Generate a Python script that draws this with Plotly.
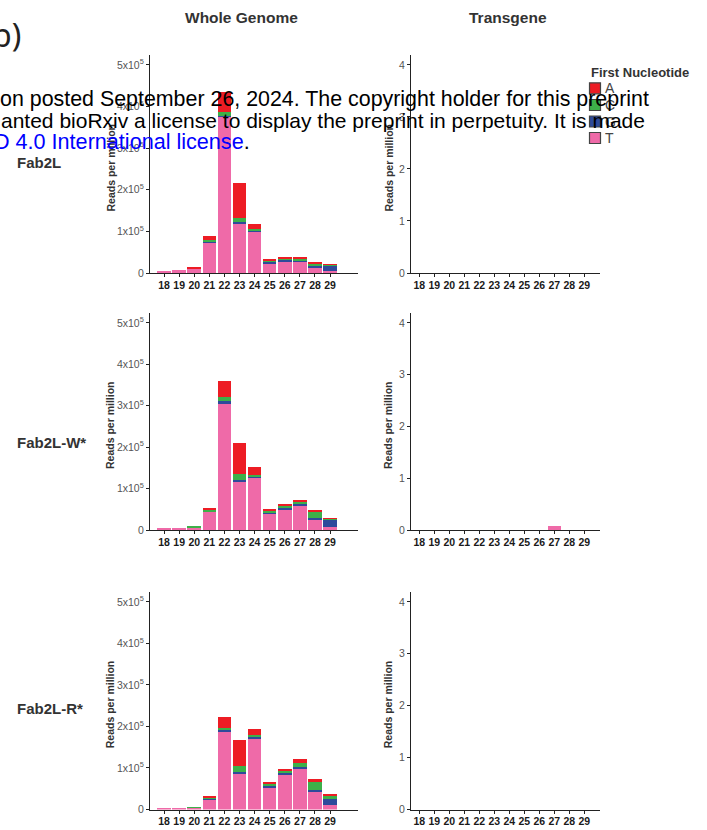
import plotly.graph_objects as go

# ---------------- data ----------------
lengths = [18, 19, 20, 21, 22, 23, 24, 25, 26, 27, 28, 29]
nucleotides = ["T", "G", "C", "A"]          # stacking order bottom -> top
legend_order = ["A", "C", "G", "T"]
samples = ["Fab2L", "Fab2L-W*", "Fab2L-R*"]
panels = ["Whole Genome", "Transgene"]

# Whole genome, reads per million, split by first nucleotide
fab2l_wg_T = [3000, 6500, 11000, 73600, 376000, 118000, 100000, 22400, 28800, 28000, 12800, 4800]
fab2l_wg_G = [0, 0, 300, 2400, 2000, 4000, 3000, 5500, 3000, 3000, 3000, 12800]
fab2l_wg_C = [0, 0, 500, 4000, 8000, 10500, 3000, 2000, 2500, 3000, 6500, 1700]
fab2l_wg_A = [0, 0, 1000, 8000, 48000, 84000, 12000, 2000, 2500, 2500, 2500, 1500]

fab2lw_wg_T = [4000, 5500, 7000, 44000, 306000, 116000, 127000, 39000, 50000, 58600, 26500, 8000]
fab2lw_wg_G = [0, 0, 0, 1500, 4800, 4000, 3000, 4000, 4000, 3000, 3000, 17000]
fab2lw_wg_C = [0, 0, 800, 3000, 9600, 16000, 2500, 4000, 4000, 6500, 14500, 2000]
fab2lw_wg_A = [0, 0, 0, 3500, 40000, 74000, 18500, 3500, 3000, 5500, 2500, 1000]

fab2lr_wg_T = [2500, 3000, 4500, 25000, 188000, 86000, 172000, 52400, 83000, 97600, 41000, 12000]
fab2lr_wg_G = [0, 0, 0, 1000, 3000, 4000, 3000, 5000, 5000, 5000, 5000, 14500]
fab2lr_wg_C = [0, 0, 1000, 3000, 5500, 14600, 3500, 5000, 5000, 9500, 20000, 6500]
fab2lr_wg_A = [0, 0, 0, 3000, 26000, 62600, 15000, 4000, 4000, 9500, 6500, 3000]

# Transgene, reads per million
fab2l_tg_T = [0] * 12
fab2l_tg_G = [0] * 12
fab2l_tg_C = [0] * 12
fab2l_tg_A = [0] * 12

fab2lw_tg_T = [0, 0, 0, 0, 0, 0, 0, 0, 0, 0.08, 0, 0]
fab2lw_tg_G = [0] * 12
fab2lw_tg_C = [0] * 12
fab2lw_tg_A = [0] * 12

fab2lr_tg_T = [0] * 12
fab2lr_tg_G = [0] * 12
fab2lr_tg_C = [0] * 12
fab2lr_tg_A = [0] * 12

wg_tickvals = [0, 100000, 200000, 300000, 400000, 500000]
wg_ticktext = ["0", "1x10<sup>5</sup>", "2x10<sup>5</sup>", "3x10<sup>5</sup>",
               "4x10<sup>5</sup>", "5x10<sup>5</sup>"]
tg_tickvals = [0, 1, 2, 3, 4]
tg_ticktext = ["0", "1", "2", "3", "4"]

data = {
    ("Fab2L", "Whole Genome"): {"T": fab2l_wg_T, "G": fab2l_wg_G, "C": fab2l_wg_C, "A": fab2l_wg_A},
    ("Fab2L-W*", "Whole Genome"): {"T": fab2lw_wg_T, "G": fab2lw_wg_G, "C": fab2lw_wg_C, "A": fab2lw_wg_A},
    ("Fab2L-R*", "Whole Genome"): {"T": fab2lr_wg_T, "G": fab2lr_wg_G, "C": fab2lr_wg_C, "A": fab2lr_wg_A},
    ("Fab2L", "Transgene"): {"T": fab2l_tg_T, "G": fab2l_tg_G, "C": fab2l_tg_C, "A": fab2l_tg_A},
    ("Fab2L-W*", "Transgene"): {"T": fab2lw_tg_T, "G": fab2lw_tg_G, "C": fab2lw_tg_C, "A": fab2lw_tg_A},
    ("Fab2L-R*", "Transgene"): {"T": fab2lr_tg_T, "G": fab2lr_tg_G, "C": fab2lr_tg_C, "A": fab2lr_tg_A},
}

# ---------------- styling ----------------
REF_W, REF_H = 707, 830           # picture size
W, H = 707, 836                   # laid-out viewport size
colors = {"A": "#ED1C24", "C": "#3DB049", "G": "#2E4A9B", "T": "#EF6AA8"}
FONT = "Liberation Sans, Arial, Helvetica, sans-serif"
AXIS_COL = "#222222"


def px(x):
    """picture pixel x -> paper fraction"""
    return x / REF_W


def py(y):
    """picture pixel y -> paper fraction"""
    return 1 - y / REF_H


# pixel layout (picture pixels)
col_x = {"Whole Genome": (150, 358), "Transgene": (411, 600)}
col_xrange = {"Whole Genome": [17.07, 30.85], "Transgene": [17.45, 30.05]}
col_yrange = {"Whole Genome": [0, 524000], "Transgene": [0, 4.19]}
row_y = {"Fab2L": (55, 273), "Fab2L-W*": (313, 530), "Fab2L-R*": (592, 809.5)}

fig = go.Figure()
layout = dict(
    width=W, height=H,
    margin=dict(l=0, r=0, t=0, b=0),
    paper_bgcolor="white", plot_bgcolor="white",
    barmode="stack",
    showlegend=False,
    font=dict(family=FONT, color="#333333"),
)

idx = 0
for s in samples:
    for p in panels:
        idx += 1
        xa = "x" if idx == 1 else f"x{idx}"
        ya = "y" if idx == 1 else f"y{idx}"
        vals = data[(s, p)]
        for n in nucleotides:
            yv = [v if v else None for v in vals[n]]
            fig.add_trace(go.Bar(
                x=lengths, y=yv, name=n, xaxis=xa, yaxis=ya,
                marker=dict(color=colors[n], line=dict(width=0)),
                width=0.9,
            ))
        x0, x1 = col_x[p]
        y0, y1 = row_y[s]
        layout["xaxis" if idx == 1 else f"xaxis{idx}"] = dict(
            domain=[px(x0), px(x1)], anchor=ya, range=col_xrange[p],
            tickvals=lengths, ticktext=[str(v) for v in lengths],
            showline=True, linecolor=AXIS_COL, linewidth=1.3,
            ticks="outside", ticklen=3, tickwidth=1, tickcolor=AXIS_COL,
            ticklabelstandoff=-1,
            tickfont=dict(size=10.5, color="#1a1a1a", weight="bold", family=FONT),
            showgrid=False, zeroline=False, fixedrange=True,
        )
        layout["yaxis" if idx == 1 else f"yaxis{idx}"] = dict(
            domain=[py(y1), py(y0)], anchor=xa, range=col_yrange[p],
            tickvals=wg_tickvals if p == "Whole Genome" else tg_tickvals,
            ticktext=wg_ticktext if p == "Whole Genome" else tg_ticktext,
            showline=True, linecolor=AXIS_COL, linewidth=1.3,
            ticks="outside", ticklen=3, tickwidth=1, tickcolor=AXIS_COL,
            tickfont=dict(size=10.5, color="#555555", family=FONT),
            showgrid=False, zeroline=False, fixedrange=True,
        )

annotations = []
shapes = []

# panel titles
for p, cx in [("Whole Genome", 241), ("Transgene", 508)]:
    annotations.append(dict(x=px(cx), y=py(17.5), xref="paper", yref="paper",
                            text=f"<b>{p}</b>", showarrow=False,
                            font=dict(size=15.5, color="#333333", family=FONT),
                            xanchor="center", yanchor="middle"))

# row labels
for s, cy in [("Fab2L", 163), ("Fab2L-W*", 442), ("Fab2L-R*", 708)]:
    annotations.append(dict(x=px(15), y=py(cy), xref="paper", yref="paper",
                            text=f"<b>{s}</b>", showarrow=False,
                            font=dict(size=15, color="#333333", family=FONT),
                            xanchor="left", yanchor="middle"))

# y-axis titles
for s in samples:
    y0, y1 = row_y[s]
    cy = (y0 + y1) / 2 + 3.5
    for cx in (110, 388):
        annotations.append(dict(x=px(cx), y=py(cy), xref="paper", yref="paper",
                                text="<b>Reads per million</b>", showarrow=False, textangle=-90,
                                font=dict(size=10.5, color="#333333", family=FONT),
                                xanchor="center", yanchor="middle"))

# legend
annotations.append(dict(x=px(640), y=py(73), xref="paper", yref="paper",
                        text="<b>First Nucleotide</b>", showarrow=False,
                        font=dict(size=13, color="#333333", family=FONT),
                        xanchor="center", yanchor="middle"))
for n, cy in zip(legend_order, [88.3, 105, 121.5, 138]):
    shapes.append(dict(type="rect", xref="paper", yref="paper",
                       x0=px(589.5), x1=px(600.5), y0=py(cy + 5.5), y1=py(cy - 5.5),
                       fillcolor=colors[n], line=dict(color="#444444", width=1.2)))
    annotations.append(dict(x=px(603), y=py(cy), xref="paper", yref="paper",
                            text=n, showarrow=False,
                            font=dict(size=14, color="#444444", family=FONT),
                            xanchor="left", yanchor="middle"))

# figure panel letter (cut off at the page edge)
annotations.append(dict(x=px(23), y=py(34), xref="paper", yref="paper",
                        text="b)", showarrow=False,
                        font=dict(size=32, color="#222222", family="Noto Sans, DejaVu Sans, sans-serif"),
                        xanchor="right", yanchor="middle"))

# overlaid preprint notice (clipped at the left edge): text, centre y, start x, size
notice = [
    ("on posted September 26, 2024. The copyright holder for this preprint", 99.5, -2, 21.4),
    ("anted bioRxiv a license to display the preprint in perpetuity. It is made", 120.5, -1, 21),
    ("<span style='color:#0000FF'>D 4.0 International license</span>.", 141.5, -8, 21.6),
]
for txt, cy, x_start, fs in notice:
    annotations.append(dict(x=px(x_start), y=py(cy), xref="paper", yref="paper",
                            text=txt, showarrow=False,
                            font=dict(size=fs, color="#000000", family=FONT),
                            xanchor="left", yanchor="middle"))

layout["annotations"] = annotations
layout["shapes"] = shapes
fig.update_layout(**layout)
fig.write_html(
    "out.html",
    config={"displayModeBar": False},
    post_script="document.body.style.margin='0';"
                "document.body.style.overflow='hidden';"
                "document.documentElement.style.overflow='hidden';",
)
